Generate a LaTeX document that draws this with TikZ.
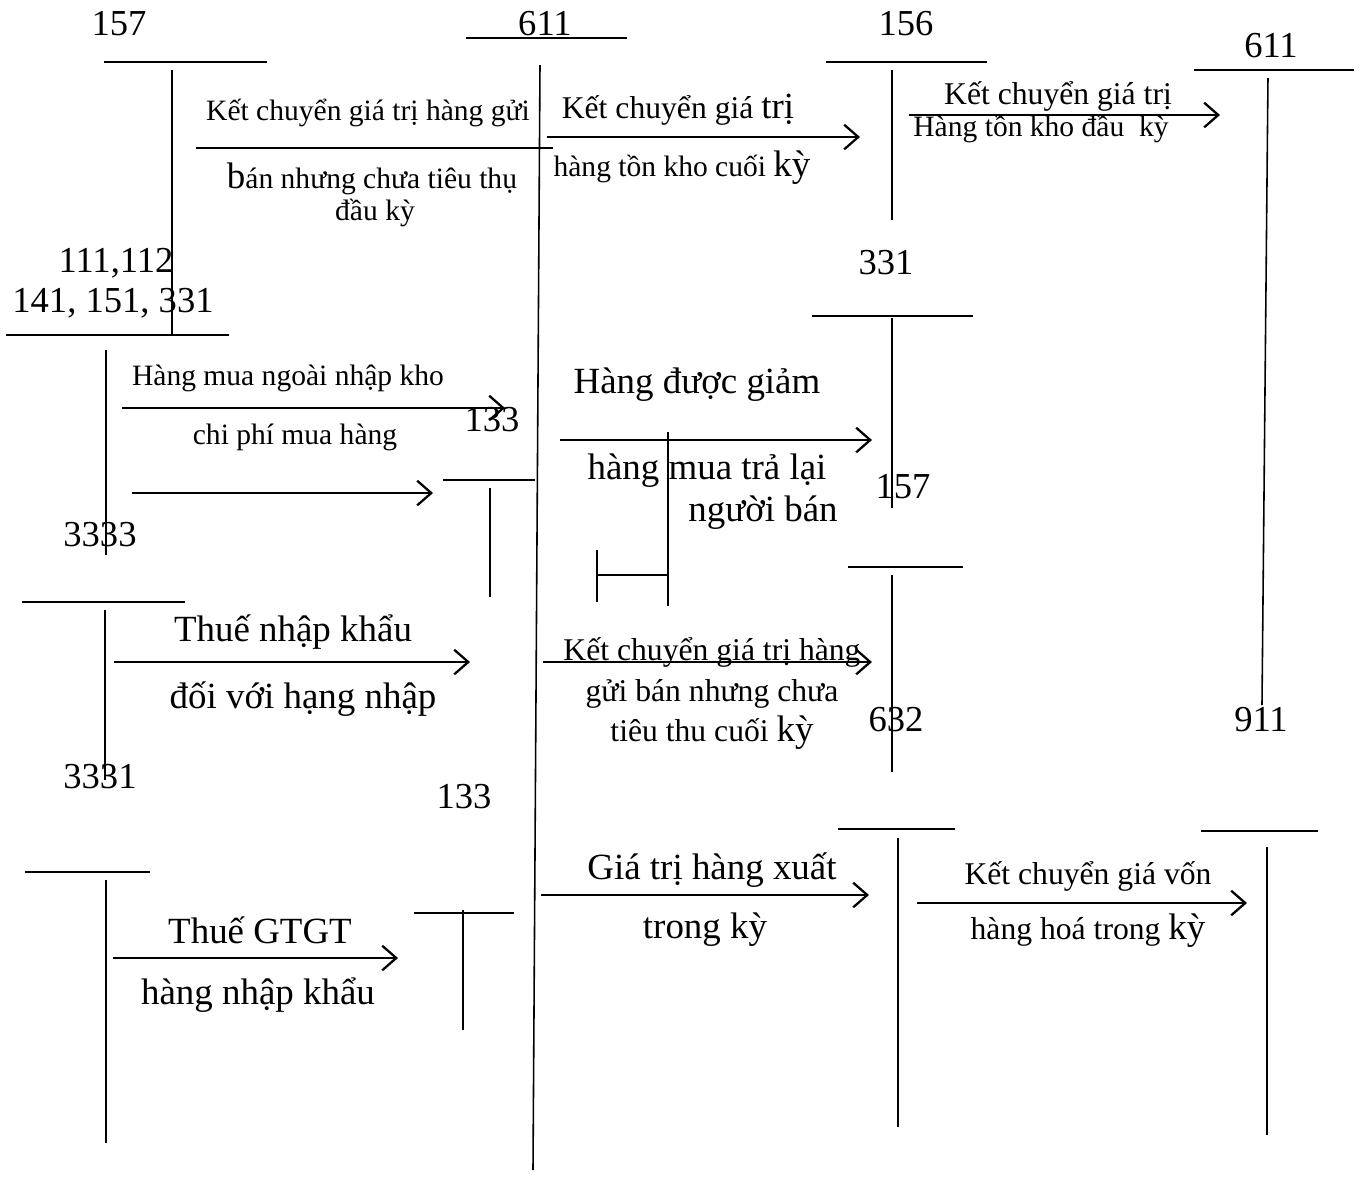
\documentclass[tikz,border=0pt]{standalone}
\usepackage{fontspec}
\setmainfont{Liberation Serif}
\usetikzlibrary{arrows.meta}
\begin{document}
\begin{tikzpicture}[x=0.01cm,y=-0.01cm,
    acct/.style={inner sep=0pt,font=\fontsize{10.4}{12}\selectfont},
    big/.style={inner sep=0pt,font=\fontsize{10.5}{12}\selectfont},
    mid/.style={inner sep=0pt,font=\fontsize{9}{11}\selectfont},
    sml/.style={inner sep=0pt,font=\fontsize{8.4}{10}\selectfont},
    tline/.style={line width=0.45pt},
    arr/.style={-{Straight Barb[length=4pt,width=7pt]},line width=0.65pt}]
    \useasboundingbox (0,0) rectangle (1362,1199);
    \newcommand{\bk}{\fontsize{10.5}{12}\selectfont}
    % Account 157 (top left)
    \node[acct] (t157) at (119,24) {157};
    \draw[tline] (104,62) -- (267,62);
    \draw[tline] (172,70) -- (172,335);
    % Account 611 (centre)
    \node[acct] (t611) at (545,24) {611};
    \draw[tline] (466,38) -- (627,38);
    \draw[tline] (540,65) -- (533,1170);
    % Account 156
    \node[acct] (t156) at (906,24) {156};
    \draw[tline] (826,62) -- (987,62);
    \draw[tline] (892,70) -- (892,220);
    % Account 611 (top right)
    \node[acct] (t611r) at (1271,46) {611};
    \draw[tline] (1194,70) -- (1354,70);
    \draw[tline] (1268,78) -- (1262,705);
    % 157 -> 611
    \coordinate (c1s) at (196,148);
    \coordinate (c1e) at (553,148);
    \node[sml] (x1a) at (368,113) {Kết chuyển giá trị hàng gửi};
    \node[sml] (x1b) at (372,179) {{\bk b}án nhưng chưa tiêu thụ};
    \node[sml] (x1c) at (375,213) {đầu kỳ};
    \draw[line width=0.65pt] (c1s) -- (c1e);
    % 611 -> 156
    \coordinate (c2s) at (547,137);
    \coordinate (c2e) at (860,137);
    \node[mid] (x2a) at (678,110) {Kết chuyển giá {\bk trị}};
    \node[sml] (x2b) at (682,168) {hàng tồn kho cuối {\bk kỳ}};
    \draw[arr] (c2s) -- (c2e);
    % 156 -> 611
    \coordinate (c3s) at (909,115);
    \coordinate (c3e) at (1220,115);
    \node[mid] (x3a) at (1058,96) {Kết chuyển giá trị};
    \node[sml] (x3b) at (1041,129) {Hàng tồn kho đầu\ \ kỳ};
    \draw[arr] (c3s) -- (c3e);
    % Accounts 111, 112, 141, 151, 331
    \node[acct] (t111) at (116,263) {111,112};
    \node[acct] (t141) at (113,303) {141, 151, 331};
    \draw[tline] (6,335) -- (229,335);
    \draw[tline] (106,350) -- (106,555);
    \node[acct] (t3333) at (100,535) {3333};
    % Purchases
    \coordinate (c4s) at (122,408);
    \coordinate (c4e) at (505,408);
    \node[sml] (x4a) at (288,378) {Hàng mua ngoài nhập kho};
    \node[sml] (x4b) at (295,437) {chi phí mua hàng};
    \draw[arr] (c4s) -- (c4e);
    \node[acct] (t133a) at (492,420) {133};
    \coordinate (c5s) at (132,493);
    \coordinate (c5e) at (433,493);
    \draw[arr] (c5s) -- (c5e);
    % Account 133 (middle)
    \draw[tline] (443,480) -- (535,480);
    \draw[tline] (490,488) -- (490,597);
    % 611 -> 331
    \coordinate (c6s) at (560,440);
    \coordinate (c6e) at (872,440);
    \node[big] (x6a) at (697,385) {Hàng được giảm};
    \node[big] (x6b) at (707,471) {hàng mua trả lại};
    \node[big] (x6c) at (763,513) {người bán};
    \draw[arr] (c6s) -- (c6e);
    % Account 331 (right)
    \node[acct] (t331) at (886,263) {331};
    \draw[tline] (812,316) -- (973,316);
    \draw[tline] (892,318) -- (892,508);
    % Account 157 (right)
    \node[acct] (t157r) at (903,487) {157};
    \draw[tline] (848,567) -- (963,567);
    \draw[tline] (892,575) -- (892,772);
    % small T
    \draw[tline] (668,432) -- (668,606);
    \draw[tline] (597,575) -- (668,575);
    \draw[tline] (597,550) -- (597,602);
    % Account 3333
    \draw[tline] (22,602) -- (185,602);
    \draw[tline] (105,610) -- (105,780);
    \coordinate (c7s) at (114,662);
    \coordinate (c7e) at (470,662);
    \node[big] (x7a) at (293,632) {Thuế nhập khẩu};
    \node[big] (x7b) at (303,699) {đối với hạng nhập};
    \draw[arr] (c7s) -- (c7e);
    % 611 -> 157
    \coordinate (c8s) at (543,662);
    \coordinate (c8e) at (872,662);
    \node[mid] (x8a) at (712,652) {Kết chuyển giá trị hàng};
    \node[mid] (x8b) at (712,694) {gửi bán nhưng chưa};
    \node[mid] (x8c) at (712,733) {tiêu thu cuối {\bk kỳ}};
    \draw[arr] (c8s) -- (c8e);
    % Labels
    \node[acct] (t632) at (896,720) {632};
    \node[acct] (t911) at (1261,720) {911};
    \node[acct] (t3331) at (100,777) {3331};
    \node[acct] (t133b) at (464,797) {133};
    % Account 3331
    \draw[tline] (25,872) -- (150,872);
    \draw[tline] (106,880) -- (106,1143);
    \coordinate (c9s) at (113,958);
    \coordinate (c9e) at (398,958);
    \node[big] (x9a) at (260,930) {Thuế GTGT};
    \node[big] (x9b) at (258,995) {hàng nhập khẩu};
    \draw[arr] (c9s) -- (c9e);
    % Account 133 (bottom)
    \draw[tline] (414,913) -- (514,913);
    \draw[tline] (463,910) -- (463,1030);
    % 611 -> 632
    \coordinate (c10s) at (541,895);
    \coordinate (c10e) at (869,895);
    \node[big] (x10a) at (712,870) {Giá trị hàng xuất};
    \node[big] (x10b) at (705,930) {trong kỳ};
    \draw[arr] (c10s) -- (c10e);
    % Account 632
    \draw[tline] (838,829) -- (955,829);
    \draw[tline] (898,838) -- (898,1127);
    % 632 -> 911
    \coordinate (c11s) at (917,903);
    \coordinate (c11e) at (1247,903);
    \node[mid] (x11a) at (1088,876) {Kết chuyển giá vốn};
    \node[mid] (x11b) at (1088,931) {hàng hoá trong {\bk kỳ}};
    \draw[arr] (c11s) -- (c11e);
    % Account 911
    \draw[tline] (1201,831) -- (1318,831);
    \draw[tline] (1267,847) -- (1267,1135);
\end{tikzpicture}
\end{document}
